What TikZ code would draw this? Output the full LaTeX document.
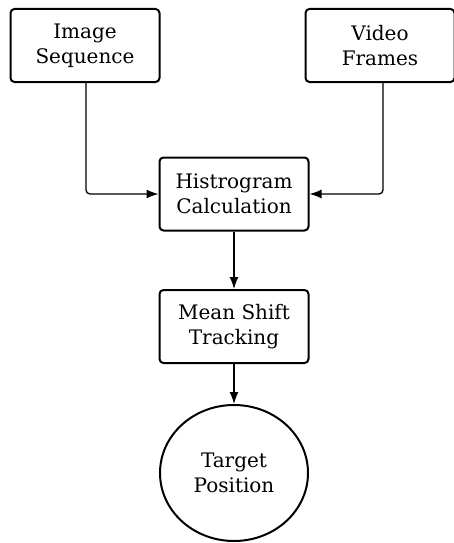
\documentclass[tikz,border=0pt]{standalone}
\usepackage{fontspec}
\setmainfont{DejaVu Serif}
\usetikzlibrary{arrows.meta,shapes.geometric}
\begin{document}
\begin{tikzpicture}[x=1pt,y=-1pt,
  lbl/.style={font=\fontsize{20}{25}\selectfont,align=center,inner sep=0pt},
  box/.style={lbl,draw,line width=2pt,rounded corners=4pt,minimum width=149pt,minimum height=73pt},
  ell/.style={lbl,draw,line width=2pt,ellipse,minimum width=148pt,minimum height=136pt},
  conn/.style={line width=1.3pt,-{Latex[length=12pt,width=9pt]},rounded corners=4pt}]
\useasboundingbox (0,0) rectangle (454,543);
\node[box] (img) at (85,45.5) {Image\\Sequence};
\node[box] (vid) at (380,45.5) {Video\\Frames};
\node[box] (hist) at (234,194) {Histrogram\\Calculation};
\node[box] (ms) at (234,326.5) {Mean Shift\\Tracking};
\node[ell] (tp) at (234,473) {Target\\Position};
\draw[conn] (img.south -| 86,0) |- (hist.west);
\draw[conn] (vid.south -| 383,0) |- (hist.east);
\draw[conn] (hist) -- (ms);
\draw[conn] (ms) -- (tp);
\end{tikzpicture}
\end{document}
